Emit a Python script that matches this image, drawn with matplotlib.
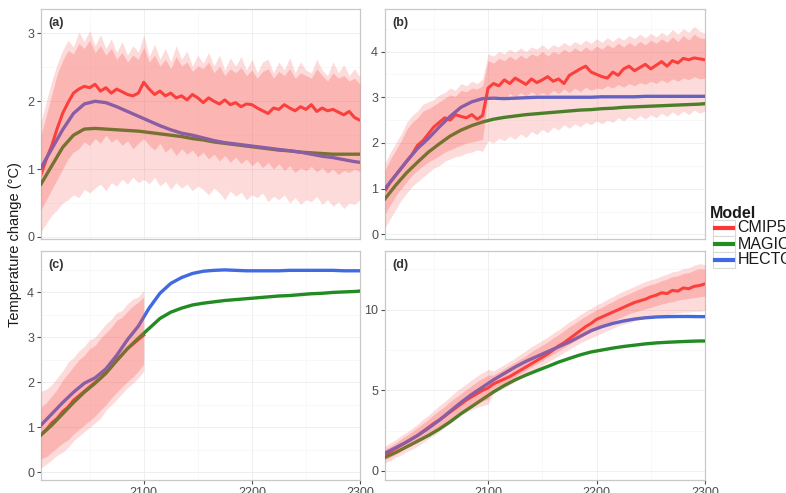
import numpy as np
import matplotlib.pyplot as plt
from matplotlib.lines import Line2D
from matplotlib.patches import Rectangle

plt.rcParams['font.family'] = ['Liberation Sans', 'DejaVu Sans']

# CMIP5 series are on a 5-year grid, the emulators on a 10-year grid
YEARS = np.arange(2005, 2301, 5)
MODEL_YEARS = np.r_[np.arange(2005, 2300, 10), 2300]

# ---- panel (a)
A_MEAN = [0.92, 1.15, 1.35, 1.60, 1.82, 1.98, 2.12, 2.18, 2.22, 2.20,
          2.25, 2.15, 2.20, 2.12, 2.18, 2.14, 2.10, 2.08, 2.12, 2.28,
          2.18, 2.10, 2.15, 2.08, 2.12, 2.05, 2.08, 2.02, 2.10, 2.05,
          1.98, 2.05, 2.00, 1.96, 2.02, 1.95, 1.98, 1.92, 1.96, 1.95,
          1.90, 1.86, 1.82, 1.90, 1.88, 1.95, 1.90, 1.86, 1.92, 1.88,
          1.95, 1.85, 1.90, 1.86, 1.88, 1.84, 1.80, 1.85, 1.76, 1.72]
A_OUT_HI = [1.70, 2.00, 2.30, 2.55, 2.75, 2.90, 2.80, 3.02, 2.88, 3.04,
            2.82, 2.98, 2.78, 2.92, 2.72, 2.88, 2.68, 2.82, 2.72, 2.98,
            2.66, 2.84, 2.62, 2.78, 2.58, 2.82, 2.62, 2.74, 2.52, 2.68,
            2.56, 2.72, 2.52, 2.68, 2.46, 2.64, 2.52, 2.66, 2.46, 2.62,
            2.42, 2.58, 2.62, 2.42, 2.58, 2.46, 2.64, 2.42, 2.58, 2.46,
            2.42, 2.62, 2.46, 2.38, 2.58, 2.42, 2.54, 2.38, 2.48, 2.35]
A_OUT_LO = [0.08, 0.20, 0.32, 0.40, 0.50, 0.55, 0.62, 0.58, 0.70, 0.65,
            0.72, 0.78, 0.68, 0.80, 0.75, 0.85, 0.78, 0.88, 0.80, 0.85,
            0.78, 0.88, 0.75, 0.82, 0.70, 0.80, 0.72, 0.78, 0.68, 0.75,
            0.70, 0.62, 0.72, 0.65, 0.55, 0.68, 0.60, 0.66, 0.55, 0.62,
            0.58, 0.65, 0.52, 0.60, 0.55, 0.62, 0.50, 0.58, 0.48, 0.55,
            0.52, 0.60, 0.48, 0.55, 0.45, 0.52, 0.42, 0.50, 0.48, 0.55]
A_IN_LO = [0.40, 0.55, 0.70, 0.85, 1.00, 1.15, 1.25, 1.30, 1.40, 1.35,
           1.45, 1.38, 1.50, 1.40, 1.45, 1.35, 1.42, 1.30, 1.38, 1.45,
           1.35, 1.28, 1.38, 1.25, 1.32, 1.20, 1.30, 1.22, 1.28, 1.18,
           1.25, 1.15, 1.22, 1.12, 1.20, 1.10, 1.18, 1.08, 1.15, 1.05,
           1.12, 1.02, 1.10, 1.00, 1.08, 0.98, 1.05, 0.95, 1.02, 0.98,
           1.04, 0.96, 1.02, 0.94, 1.00, 0.92, 0.98, 0.95, 1.00, 0.96]
A_IN_HI = [1.50, 1.80, 2.10, 2.40, 2.60, 2.75, 2.70, 2.85, 2.78, 2.90,
           2.72, 2.82, 2.68, 2.78, 2.62, 2.72, 2.58, 2.68, 2.62, 2.80,
           2.58, 2.68, 2.52, 2.62, 2.48, 2.66, 2.52, 2.58, 2.44, 2.52,
           2.48, 2.58, 2.42, 2.52, 2.38, 2.48, 2.42, 2.50, 2.38, 2.46,
           2.34, 2.44, 2.48, 2.34, 2.44, 2.38, 2.48, 2.34, 2.42, 2.38,
           2.34, 2.48, 2.38, 2.30, 2.42, 2.34, 2.38, 2.30, 2.34, 2.25]
A_MAGICC = [0.78, 1.05, 1.32, 1.50, 1.59, 1.60, 1.59, 1.58, 1.57, 1.56,
            1.54, 1.52, 1.50, 1.48, 1.45, 1.43, 1.40, 1.38, 1.36, 1.34,
            1.32, 1.30, 1.28, 1.27, 1.25, 1.24, 1.23, 1.22, 1.22, 1.22, 1.22]
A_HECTOR = [1.02, 1.30, 1.58, 1.82, 1.96, 2.00, 1.98, 1.92, 1.85, 1.78,
            1.71, 1.64, 1.58, 1.53, 1.50, 1.46, 1.42, 1.39, 1.37, 1.35,
            1.33, 1.31, 1.29, 1.27, 1.25, 1.22, 1.19, 1.17, 1.14, 1.11, 1.10]

# ---- panel (b)
B_MEAN = [0.95, 1.15, 1.30, 1.45, 1.60, 1.75, 1.95, 2.05, 2.20, 2.35,
          2.45, 2.55, 2.50, 2.62, 2.58, 2.55, 2.62, 2.52, 2.60, 3.20,
          3.30, 3.25, 3.38, 3.30, 3.42, 3.35, 3.28, 3.40, 3.32, 3.38,
          3.45, 3.35, 3.40, 3.30, 3.48, 3.55, 3.62, 3.68, 3.55, 3.50,
          3.45, 3.42, 3.55, 3.48, 3.62, 3.68, 3.58, 3.65, 3.72, 3.62,
          3.70, 3.78, 3.68, 3.80, 3.75, 3.85, 3.82, 3.86, 3.84, 3.82]
B_OUT_HI = [1.55, 1.80, 2.00, 2.20, 2.45, 2.60, 2.70, 2.85, 2.90, 2.95,
            3.05, 3.10, 3.20, 3.15, 3.30, 3.25, 3.35, 3.30, 3.40, 3.95,
            3.90, 4.00, 3.95, 4.05, 3.98, 4.08, 4.00, 4.10, 4.05, 4.15,
            4.05, 4.15, 4.10, 4.20, 4.12, 4.22, 4.15, 4.25, 4.18, 4.28,
            4.20, 4.30, 4.22, 4.32, 4.25, 4.35, 4.28, 4.38, 4.30, 4.40,
            4.32, 4.42, 4.35, 4.48, 4.38, 4.50, 4.42, 4.55, 4.45, 4.40]
B_OUT_LO = [0.15, 0.35, 0.55, 0.75, 0.90, 1.05, 1.15, 1.25, 1.35, 1.45,
            1.50, 1.60, 1.65, 1.70, 1.72, 1.78, 1.80, 1.85, 1.82, 2.05,
            2.00, 2.10, 2.05, 2.15, 2.08, 2.20, 2.12, 2.25, 2.18, 2.30,
            2.22, 2.35, 2.28, 2.40, 2.32, 2.42, 2.35, 2.45, 2.40, 2.48,
            2.42, 2.50, 2.45, 2.55, 2.48, 2.58, 2.50, 2.60, 2.52, 2.62,
            2.55, 2.65, 2.58, 2.68, 2.60, 2.70, 2.62, 2.72, 2.65, 2.70]
B_IN_LO = [0.45, 0.65, 0.85, 1.00, 1.15, 1.30, 1.40, 1.50, 1.58, 1.65,
           1.72, 1.80, 1.85, 1.90, 1.95, 2.00, 2.02, 2.05, 2.08, 3.00,
           2.95, 3.05, 2.98, 3.08, 3.00, 3.10, 3.02, 3.12, 3.05, 3.10,
           3.05, 3.15, 3.08, 3.18, 3.10, 3.20, 3.12, 3.22, 3.15, 3.20,
           3.18, 3.25, 3.20, 3.28, 3.22, 3.30, 3.25, 3.32, 3.28, 3.35,
           3.30, 3.38, 3.32, 3.40, 3.35, 3.42, 3.38, 3.45, 3.40, 3.42]
B_IN_HI = [1.40, 1.65, 1.85, 2.05, 2.30, 2.45, 2.55, 2.70, 2.75, 2.82,
           2.90, 2.98, 3.05, 3.02, 3.15, 3.12, 3.20, 3.18, 3.25, 3.80,
           3.75, 3.85, 3.80, 3.90, 3.82, 3.92, 3.85, 3.95, 3.90, 4.00,
           3.90, 4.00, 3.95, 4.05, 3.98, 4.08, 4.00, 4.10, 4.02, 4.12,
           4.05, 4.15, 4.08, 4.18, 4.10, 4.20, 4.12, 4.22, 4.15, 4.25,
           4.18, 4.28, 4.20, 4.32, 4.22, 4.35, 4.25, 4.38, 4.30, 4.28]
B_MAGICC = [0.78, 1.08, 1.35, 1.58, 1.80, 1.98, 2.15, 2.28, 2.38, 2.46,
            2.52, 2.56, 2.59, 2.62, 2.64, 2.66, 2.68, 2.70, 2.72, 2.73,
            2.75, 2.76, 2.78, 2.79, 2.80, 2.81, 2.82, 2.83, 2.84, 2.85, 2.86]
B_HECTOR = [1.00, 1.30, 1.60, 1.88, 2.10, 2.35, 2.58, 2.78, 2.90, 2.97,
            2.98, 2.97, 2.98, 2.99, 3.00, 3.00, 3.00, 3.00, 3.00, 3.00,
            3.01, 3.01, 3.01, 3.01, 3.02, 3.02, 3.02, 3.02, 3.02, 3.02, 3.02]

# ---- panel (c): CMIP5 only to 2100
C_MEAN = [0.85, 0.95, 1.10, 1.20, 1.35, 1.45, 1.60, 1.70, 1.80, 1.90,
          2.00, 2.10, 2.25, 2.40, 2.50, 2.62, 2.75, 2.85, 2.95, 3.05]
C_OUT_HI = [1.80, 1.85, 1.95, 2.10, 2.25, 2.45, 2.55, 2.70, 2.80, 2.95,
            3.00, 3.15, 3.30, 3.40, 3.55, 3.60, 3.75, 3.85, 3.90, 4.05]
C_OUT_LO = [0.10, 0.18, 0.28, 0.38, 0.45, 0.55, 0.70, 0.80, 0.90, 1.00,
            1.10, 1.20, 1.38, 1.50, 1.62, 1.75, 1.88, 1.98, 2.10, 2.25]
C_IN_LO = [0.30, 0.35, 0.45, 0.55, 0.65, 0.72, 0.85, 0.95, 1.05, 1.15,
           1.25, 1.38, 1.50, 1.65, 1.78, 1.90, 2.02, 2.12, 2.25, 2.40]
C_IN_HI = [1.45, 1.55, 1.70, 1.85, 2.05, 2.20, 2.35, 2.50, 2.60, 2.75,
           2.82, 2.98, 3.10, 3.22, 3.38, 3.45, 3.58, 3.70, 3.78, 3.90]
C_MAGICC = [0.83, 1.05, 1.30, 1.55, 1.78, 1.98, 2.20, 2.48, 2.75, 2.98,
            3.20, 3.42, 3.56, 3.65, 3.72, 3.76, 3.79, 3.82, 3.84, 3.86,
            3.88, 3.90, 3.92, 3.93, 3.95, 3.97, 3.98, 4.00, 4.01, 4.02, 4.03]
C_HECTOR = [1.05, 1.30, 1.55, 1.78, 1.98, 2.10, 2.30, 2.60, 2.95, 3.25,
            3.65, 3.98, 4.20, 4.33, 4.42, 4.47, 4.49, 4.50, 4.49, 4.48,
            4.48, 4.48, 4.48, 4.49, 4.49, 4.49, 4.49, 4.49, 4.48, 4.48, 4.48]

# ---- panel (d)
D_MEAN = [1.00, 1.20, 1.40, 1.60, 1.80, 2.00, 2.20, 2.45, 2.70, 2.95,
          3.15, 3.40, 3.65, 3.90, 4.15, 4.40, 4.60, 4.80, 5.00, 5.15,
          5.40, 5.55, 5.70, 5.85, 6.05, 6.25, 6.45, 6.65, 6.85, 7.05,
          7.25, 7.50, 7.75, 7.95, 8.20, 8.45, 8.70, 8.95, 9.15, 9.40,
          9.55, 9.70, 9.85, 10.00, 10.15, 10.30, 10.45, 10.55, 10.65, 10.80,
          10.90, 11.05, 11.00, 11.20, 11.15, 11.35, 11.30, 11.45, 11.50, 11.60]
D_OUT_HI = [1.55, 1.75, 1.95, 2.20, 2.40, 2.65, 2.90, 3.20, 3.45, 3.75,
            4.05, 4.30, 4.60, 4.90, 5.15, 5.40, 5.65, 5.90, 6.10, 6.30,
            6.20, 6.40, 6.60, 6.80, 7.00, 7.25, 7.45, 7.70, 7.90, 8.10,
            8.30, 8.55, 8.75, 9.00, 9.25, 9.45, 9.70, 9.90, 10.10, 10.30,
            10.45, 10.65, 10.80, 11.00, 11.15, 11.30, 11.45, 11.60, 11.75, 11.85,
            11.95, 12.10, 12.20, 12.35, 12.40, 12.55, 12.60, 12.75, 12.85, 12.80]
D_OUT_LO = [0.50, 0.65, 0.85, 1.00, 1.20, 1.35, 1.55, 1.75, 2.00, 2.20,
            2.45, 2.70, 2.95, 3.20, 3.45, 3.65, 3.80, 3.95, 4.05, 4.15,
            4.80, 5.00, 5.15, 5.35, 5.55, 5.75, 5.95, 6.15, 6.35, 6.55,
            6.75, 6.95, 7.15, 7.35, 7.55, 7.75, 7.95, 8.10, 8.25, 8.40,
            8.55, 8.70, 8.85, 9.00, 9.10, 9.20, 9.30, 9.40, 9.45, 9.55,
            9.60, 9.65, 9.70, 9.75, 9.80, 9.85, 9.85, 9.90, 9.90, 9.95]
D_IN_LO = [0.70, 0.85, 1.05, 1.25, 1.45, 1.60, 1.80, 2.00, 2.25, 2.45,
           2.70, 2.95, 3.20, 3.45, 3.70, 3.90, 4.05, 4.20, 4.35, 4.45,
           5.10, 5.30, 5.45, 5.65, 5.85, 6.05, 6.25, 6.45, 6.65, 6.85,
           7.05, 7.25, 7.45, 7.65, 7.85, 8.05, 8.25, 8.45, 8.65, 8.85,
           9.00, 9.15, 9.30, 9.45, 9.60, 9.75, 9.85, 9.95, 10.05, 10.15,
           10.25, 10.35, 10.45, 10.50, 10.60, 10.65, 10.70, 10.75, 10.80, 10.85]
D_IN_HI = [1.35, 1.55, 1.75, 2.00, 2.20, 2.45, 2.70, 2.95, 3.20, 3.50,
           3.75, 4.00, 4.30, 4.55, 4.80, 5.05, 5.30, 5.55, 5.75, 5.95,
           5.95, 6.15, 6.35, 6.55, 6.75, 6.95, 7.15, 7.40, 7.60, 7.80,
           8.00, 8.25, 8.45, 8.70, 8.95, 9.15, 9.40, 9.60, 9.80, 10.00,
           10.15, 10.35, 10.50, 10.70, 10.85, 11.00, 11.15, 11.30, 11.45, 11.55,
           11.65, 11.80, 11.90, 12.05, 12.10, 12.25, 12.30, 12.45, 12.55, 12.50]
D_MAGICC = [0.85, 1.15, 1.50, 1.85, 2.20, 2.60, 3.05, 3.55, 4.00, 4.45,
            4.90, 5.30, 5.65, 5.95, 6.22, 6.48, 6.75, 6.98, 7.20, 7.38,
            7.50, 7.62, 7.72, 7.80, 7.88, 7.94, 7.98, 8.01, 8.04, 8.06, 8.06]
D_HECTOR = [1.10, 1.45, 1.80, 2.20, 2.65, 3.15, 3.70, 4.25, 4.75, 5.20,
            5.65, 6.05, 6.45, 6.80, 7.10, 7.40, 7.70, 8.00, 8.35, 8.70,
            8.95, 9.15, 9.30, 9.42, 9.50, 9.55, 9.57, 9.58, 9.58, 9.57, 9.57]

MODELS = ['CMIP5', 'MAGICC6', 'HECTOR']
RED = '#FF3535'
GREEN = '#228B22'
BLUE = '#4169E1'
BAND = '#F84F4A'
TXT = '#4D4D4D'

W, H = 786, 493
fig = plt.figure(figsize=(W / 100, H / 100), dpi=100)


def px_axes(left, top, right, bottom):
    return fig.add_axes([left / W, 1 - bottom / H, (right - left) / W, (bottom - top) / H])


def panel(ax, label, mean, in_lo, in_hi, out_lo, out_hi, magicc, hector,
          ylim, yticks, yminor, xlabels):
    yrs = YEARS[:len(mean)]
    ax.plot(yrs, mean, color=RED, lw=2.2, zorder=2)
    ax.plot(MODEL_YEARS, magicc, color=GREEN, lw=2.4, zorder=3)
    ax.plot(MODEL_YEARS, hector, color=BLUE, lw=2.4, zorder=3)
    ax.fill_between(yrs, out_lo, out_hi, color=BAND, alpha=0.2, lw=0, zorder=4)
    ax.fill_between(yrs, in_lo, in_hi, color=BAND, alpha=0.26, lw=0, zorder=4)

    ax.set_xlim(2005, 2300)
    ax.set_ylim(*ylim)
    ax.set_yticks(yticks)
    ax.set_yticks(yminor, minor=True)
    ax.set_xticks([2100, 2200, 2300])
    ax.set_xticks([2050, 2150, 2250], minor=True)
    ax.grid(True, which='major', color='#EDEDED', lw=0.6, zorder=0)
    ax.grid(True, which='minor', color='#F6F6F6', lw=0.5, zorder=0)
    ax.set_axisbelow(True)
    for s in ax.spines.values():
        s.set_color('#C8C8C8')
        s.set_linewidth(0.9)
    ax.tick_params(which='minor', length=0)
    ax.tick_params(axis='y', which='major', length=3, width=0.8, color=TXT,
                   labelcolor=TXT, labelsize=9, pad=2)
    if xlabels:
        ax.tick_params(axis='x', which='major', length=3, width=0.8, color=TXT,
                       labelcolor=TXT, labelsize=9, pad=2)
    else:
        ax.tick_params(axis='x', which='major', length=0, labelbottom=False)
    ax.text(0.022, 0.965, label, transform=ax.transAxes, ha='left', va='top',
            fontsize=9, fontweight='bold', color='#333333')


ax_a = px_axes(41, 9, 360, 239)
ax_b = px_axes(385, 9, 705, 239)
ax_c = px_axes(41, 251, 360, 480)
ax_d = px_axes(385, 251, 705, 480)

panel(ax_a, '(a)', A_MEAN, A_IN_LO, A_IN_HI, A_OUT_LO, A_OUT_HI, A_MAGICC, A_HECTOR,
      (-0.03, 3.36), [0, 1, 2, 3], [0.5, 1.5, 2.5], False)
panel(ax_b, '(b)', B_MEAN, B_IN_LO, B_IN_HI, B_OUT_LO, B_OUT_HI, B_MAGICC, B_HECTOR,
      (-0.1, 4.93), [0, 1, 2, 3, 4], [0.5, 1.5, 2.5, 3.5, 4.5], False)
panel(ax_c, '(c)', C_MEAN, C_IN_LO, C_IN_HI, C_OUT_LO, C_OUT_HI, C_MAGICC, C_HECTOR,
      (-0.17, 4.92), [0, 1, 2, 3, 4], [0.5, 1.5, 2.5, 3.5, 4.5], True)
panel(ax_d, '(d)', D_MEAN, D_IN_LO, D_IN_HI, D_OUT_LO, D_OUT_HI, D_MAGICC, D_HECTOR,
      (-0.56, 13.64), [0, 5, 10], [2.5, 7.5, 12.5], True)

fig.text(15 / W, 1 - 245 / H, 'Temperature change (°C)', rotation=90,
         ha='center', va='center', fontsize=10.5, color='#1A1A1A')

# legend, drawn by hand to get ggplot style key boxes
fig.text(710 / W, 1 - 213 / H, 'Model', ha='left', va='center',
         fontsize=11.5, fontweight='bold', color='#1A1A1A')
for i, (name, col) in enumerate(zip(MODELS, [RED, GREEN, BLUE])):
    yc = 228 + 16 * i
    fig.add_artist(Rectangle((713 / W, 1 - (yc + 8) / H), 22 / W, 16 / H,
                             transform=fig.transFigure, facecolor='white',
                             edgecolor='#D9D9D9', lw=0.8))
    fig.add_artist(Line2D([715 / W, 733 / W], [1 - yc / H, 1 - yc / H],
                          transform=fig.transFigure, color=col, lw=3))
    fig.text(737.5 / W, 1 - yc / H, name, ha='left', va='center',
             fontsize=11.5, color='#1A1A1A')

fig.savefig('out.png', dpi=100)
